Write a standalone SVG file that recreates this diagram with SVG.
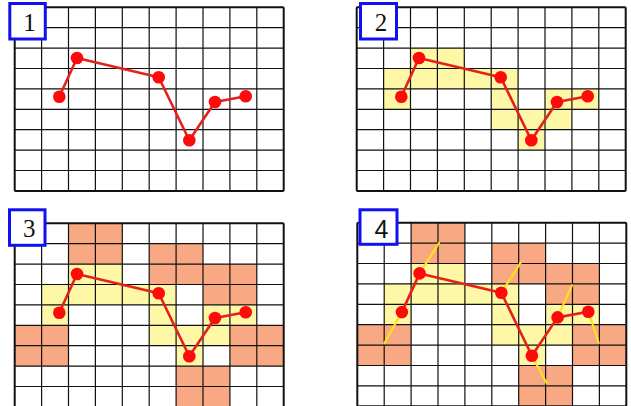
<svg xmlns="http://www.w3.org/2000/svg" xmlns:xlink="http://www.w3.org/1999/xlink" width="631" height="406" viewBox="0 0 631 406">
<style>
.y{fill:#fdf7a6}
.o{fill:#f8a882}
.grid{fill:none;stroke:#111;stroke-width:1.2}
.frame{fill:none;stroke:#111;stroke-width:2}
.curve{fill:none;stroke:#e3201b;stroke-width:2.6;stroke-linejoin:round}
.dot{fill:#ff0a0a}
.norm{stroke:#ffe21a;stroke-width:2.2;stroke-linecap:round}
.lbl{fill:#fff;stroke:#1010f0;stroke-width:3}
.ts{font-family:"Liberation Serif",serif;font-size:25px;fill:#111;text-anchor:middle}
.tn{font-family:"Liberation Sans",sans-serif;font-size:25px;fill:#111;text-anchor:middle}
</style>
<defs>
<g id="yellow">
<rect class="y" x="53.8" y="40.8" width="53.8" height="20.4"/>
<rect class="y" x="26.9" y="61.2" width="134.5" height="20.4"/>
<rect class="y" x="26.9" y="81.6" width="26.9" height="20.4"/>
<rect class="y" x="134.5" y="81.6" width="26.9" height="20.4"/>
<rect class="y" x="188.3" y="81.6" width="53.8" height="20.4"/>
<rect class="y" x="134.5" y="102" width="80.7" height="20.4"/>
<rect class="y" x="161.4" y="122.4" width="26.9" height="20.4"/>
</g>
<g id="orange">
<rect class="o" x="53.8" y="0" width="53.8" height="40.8"/>
<rect class="o" x="134.5" y="20.4" width="53.8" height="20.4"/>
<rect class="o" x="134.5" y="40.8" width="107.6" height="20.4"/>
<rect class="o" x="188.3" y="61.2" width="53.8" height="20.4"/>
<rect class="o" x="0" y="102" width="53.8" height="40.8"/>
<rect class="o" x="215.2" y="102" width="53.8" height="40.8"/>
<rect class="o" x="161.4" y="142.8" width="53.8" height="40.8"/>
</g>
<g id="grid">
<path class="grid" d="M26.9 0V183.6M53.8 0V183.6M80.7 0V183.6M107.6 0V183.6M134.5 0V183.6M161.4 0V183.6M188.3 0V183.6M215.2 0V183.6M242.1 0V183.6M0 20.4H269M0 40.8H269M0 61.2H269M0 81.6H269M0 102H269M0 122.4H269M0 142.8H269M0 163.2H269"/>
<rect class="frame" x="0" y="0" width="269" height="183.6" rx="1"/>
</g>
<g id="curve">
<polyline class="curve" points="44.6,89.4 62.3,50.7 144,70 174.6,133 200.3,94.7 231,89"/>
</g>
<g id="dots">
<circle class="dot" cx="44.6" cy="89.4" r="6.3"/>
<circle class="dot" cx="62.3" cy="50.7" r="6.3"/>
<circle class="dot" cx="144" cy="70" r="6.3"/>
<circle class="dot" cx="174.6" cy="133" r="6.3"/>
<circle class="dot" cx="200.3" cy="94.7" r="6.3"/>
<circle class="dot" cx="231" cy="89" r="6.3"/>
</g>
</defs>
<rect width="631" height="406" fill="#fff"/>
<g id="panel1" transform="translate(14.7,7.3)">
<use xlink:href="#grid"/>
<use xlink:href="#curve"/>
<use xlink:href="#dots"/>
</g>
<g id="panel2" transform="translate(356.7,7.3)">
<use xlink:href="#yellow"/>
<use xlink:href="#grid"/>
<use xlink:href="#curve"/>
<use xlink:href="#dots"/>
</g>
<g id="panel3" transform="translate(14.7,223.3)">
<use xlink:href="#yellow"/>
<use xlink:href="#orange"/>
<use xlink:href="#grid"/>
<use xlink:href="#curve"/>
<use xlink:href="#dots"/>
</g>
<g id="panel4" transform="translate(357.3,222.7)">
<use xlink:href="#yellow"/>
<use xlink:href="#orange"/>
<use xlink:href="#grid"/>
<use xlink:href="#curve"/>
<g id="normals">
<line class="norm" x1="44.6" y1="89.4" x2="27" y2="120.6"/>
<line class="norm" x1="62.3" y1="50.7" x2="81.7" y2="20.3"/>
<line class="norm" x1="144" y1="70" x2="163.4" y2="40"/>
<line class="norm" x1="174.6" y1="133" x2="189.4" y2="160.6"/>
<line class="norm" x1="200.3" y1="94.7" x2="214.7" y2="62.6"/>
<line class="norm" x1="231" y1="89" x2="241.5" y2="120.3"/>
</g>
<use xlink:href="#dots"/>
</g>
<g id="label1">
<rect class="lbl" x="9.8" y="3.5" width="35.5" height="35.5"/>
<text class="ts" x="29.5" y="31">1</text>
</g>
<g id="label2">
<rect class="lbl" x="360.5" y="3.5" width="36" height="35.5"/>
<text class="ts" x="381" y="31">2</text>
</g>
<g id="label3">
<rect class="lbl" x="9.5" y="209.8" width="35.5" height="35.5"/>
<text class="ts" x="29.3" y="237">3</text>
</g>
<g id="label4">
<rect class="lbl" x="360" y="209.8" width="37" height="34.5"/>
<text class="tn" x="381.5" y="237.5">4</text>
</g>
</svg>
